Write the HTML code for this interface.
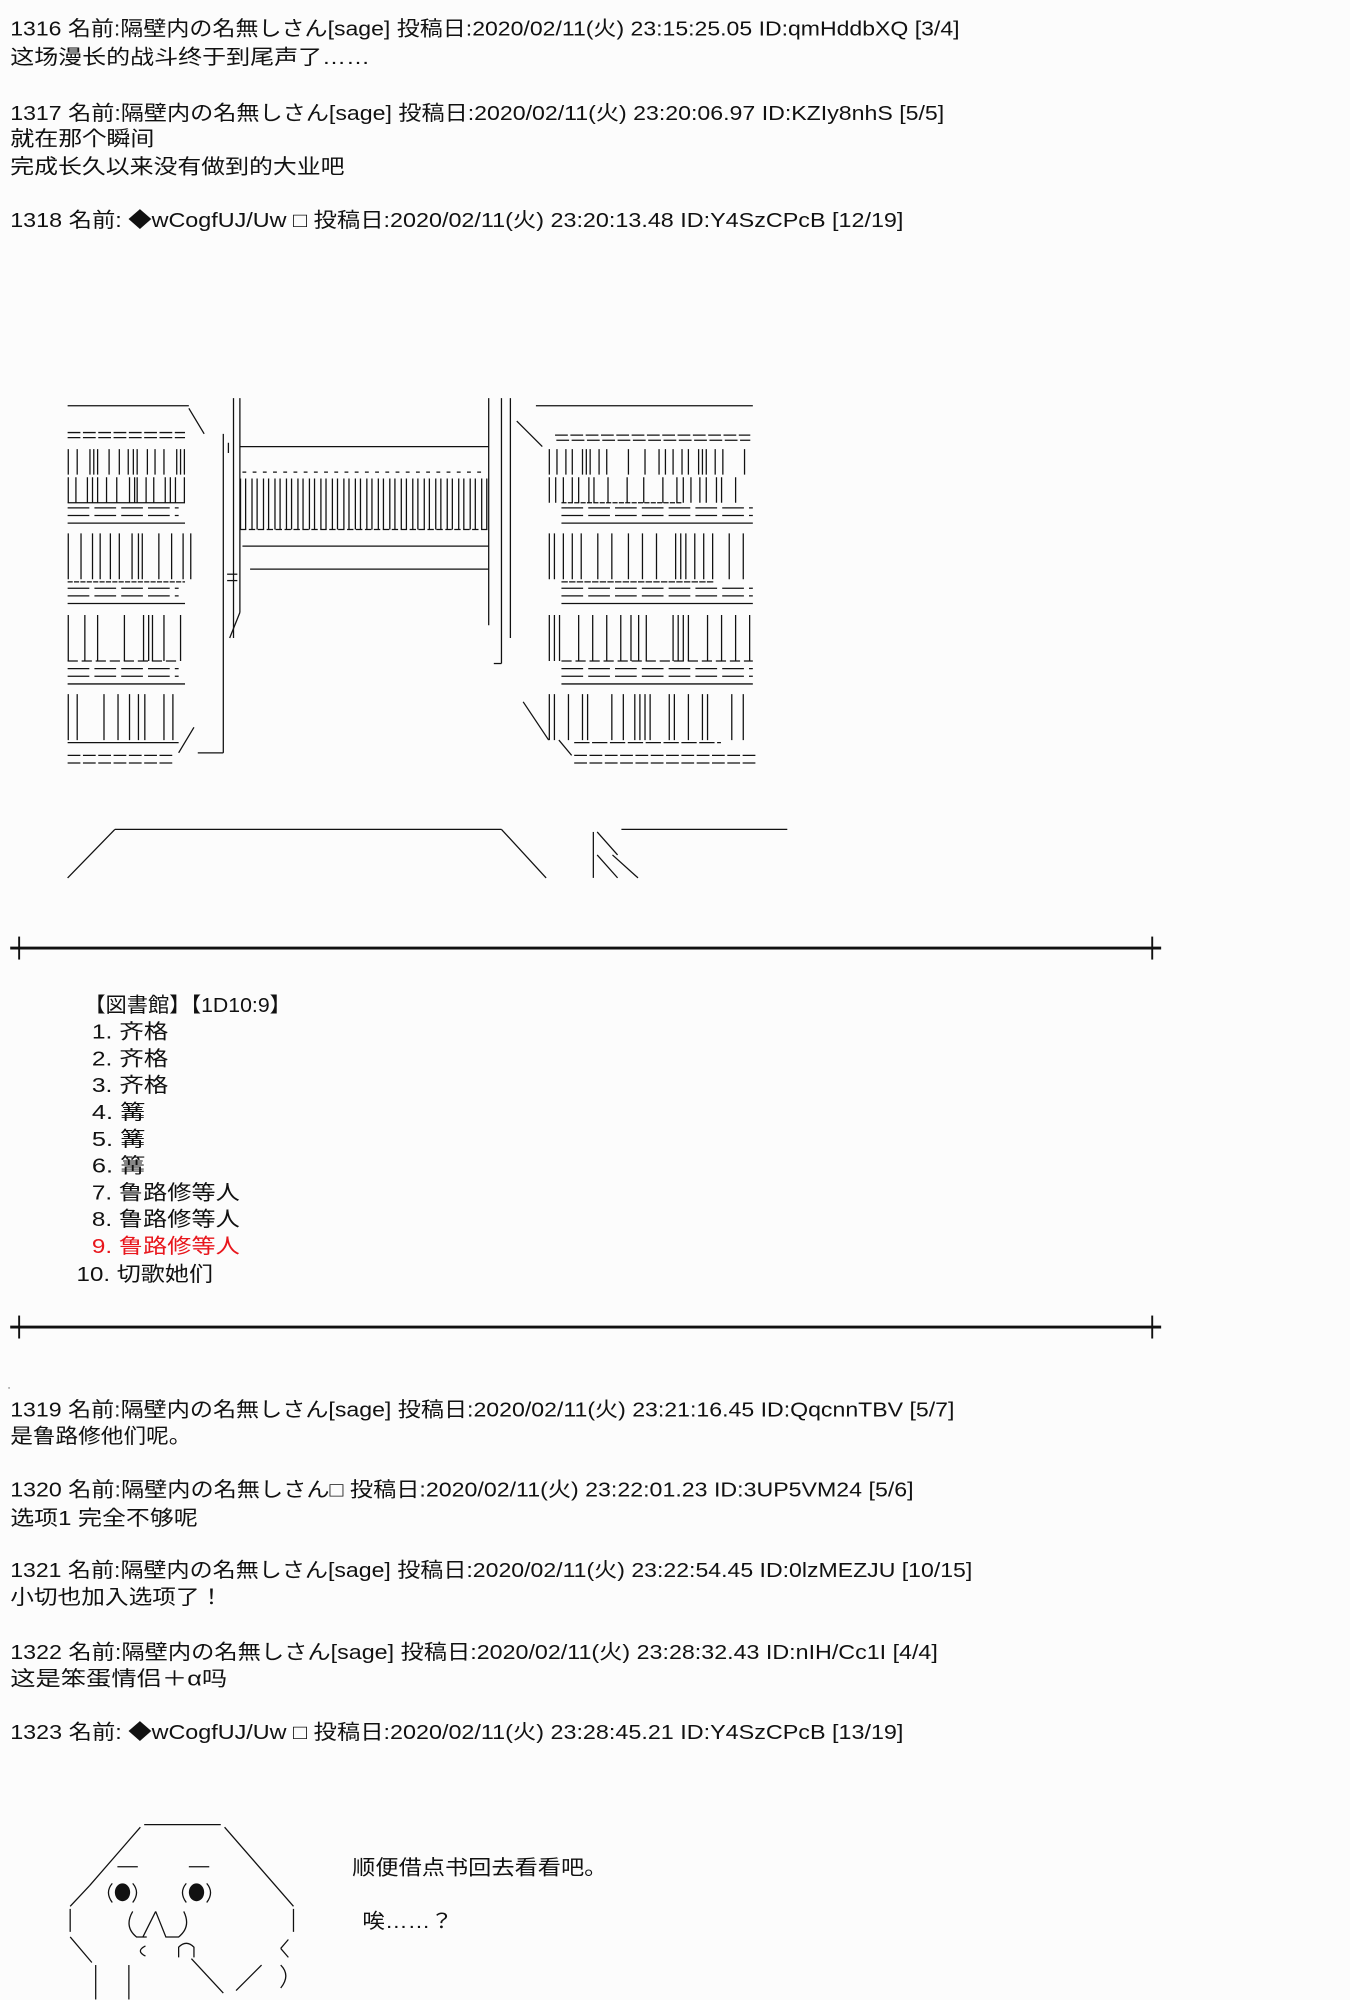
<!DOCTYPE html>
<html><head><meta charset="utf-8"><style>
html,body{margin:0;padding:0;background:#fcfcfc;width:1350px;height:2000px;overflow:hidden}
svg{display:block}
text{font-family:"Liberation Sans","Noto Sans CJK JP",sans-serif;font-size:16px;fill:#111}
</style></head><body>
<svg width="1350" height="2000" viewBox="0 0 1058 1567.4" xmlns="http://www.w3.org/2000/svg">
<g>
<text x="8" y="28" textLength="744" lengthAdjust="spacingAndGlyphs">1316 名前:隔壁内の名無しさん[sage] 投稿日:2020/02/11(火) 23:15:25.05 ID:qmHddbXQ [3/4]</text>
<text x="8" y="50" textLength="282" lengthAdjust="spacingAndGlyphs">这场漫长的战斗终于到尾声了……</text>
<text x="8" y="94" textLength="732" lengthAdjust="spacingAndGlyphs">1317 名前:隔壁内の名無しさん[sage] 投稿日:2020/02/11(火) 23:20:06.97 ID:KZIy8nhS [5/5]</text>
<text x="8" y="114" textLength="113" lengthAdjust="spacingAndGlyphs">就在那个瞬间</text>
<text x="8" y="136" textLength="262" lengthAdjust="spacingAndGlyphs">完成长久以来没有做到的大业吧</text>
<text x="8" y="178" textLength="700" lengthAdjust="spacingAndGlyphs">1318 名前: ◆wCogfUJ/Uw □ 投稿日:2020/02/11(火) 23:20:13.48 ID:Y4SzCPcB [12/19]</text>
</g>
<g stroke="#111" stroke-width="1" fill="none">
<line x1="53" y1="318" x2="148" y2="318"/>
<line x1="148" y1="320" x2="160" y2="340" />
<line x1="53" y1="339" x2="145" y2="339" stroke-dasharray="10 2"/>
<line x1="53" y1="343" x2="145" y2="343" stroke-dasharray="10 2"/>
<line x1="53" y1="362" x2="150" y2="362" stroke-width="20" stroke-dasharray="1 6 1 9 1 2 1 2 1 8 1 7 1 6 1 3 1 2 1 7 1 5"/>
<line x1="53" y1="384" x2="150" y2="384" stroke-width="20" stroke-dasharray="1 5 1 8 1 3 1 3 1 6 1 7 1 9 1 3 1 1 1 6"/>
<line x1="53" y1="394" x2="145" y2="394"/>
<line x1="53" y1="398" x2="140" y2="398" stroke-dasharray="17 4"/>
<line x1="53" y1="404" x2="140" y2="404" stroke-dasharray="17 4"/>
<line x1="53" y1="410" x2="145" y2="410"/>
<line x1="53" y1="436" x2="150" y2="436" stroke-width="36" stroke-dasharray="1 9 1 8 1 5 1 7 1 6 1 9 1 4 1 2 1 12"/>
<line x1="53" y1="456" x2="145" y2="456" stroke-dasharray="4 1"/>
<line x1="53" y1="461" x2="140" y2="461" stroke-dasharray="17 4"/>
<line x1="53" y1="467" x2="140" y2="467" stroke-dasharray="17 4"/>
<line x1="53" y1="473" x2="145" y2="473"/>
<line x1="53" y1="500" x2="150" y2="500" stroke-width="36" stroke-dasharray="1 12 1 9 1 20 1 14 1 3 1 2 1 8"/>
<line x1="53" y1="518" x2="140" y2="518" stroke-dasharray="8 3"/>
<line x1="53" y1="524" x2="140" y2="524" stroke-dasharray="17 4"/>
<line x1="53" y1="530" x2="140" y2="530" stroke-dasharray="17 4"/>
<line x1="53" y1="536" x2="145" y2="536"/>
<line x1="53" y1="562" x2="150" y2="562" stroke-width="36" stroke-dasharray="1 6 1 20 1 10 1 8 1 6 1 4 1 14"/>
<line x1="53" y1="582" x2="140" y2="582"/>
<line x1="53" y1="592" x2="137" y2="592" stroke-dasharray="10 2"/>
<line x1="53" y1="598" x2="137" y2="598" stroke-dasharray="10 2"/>
<line x1="140" y1="590" x2="152" y2="570"/>
<line x1="175" y1="340" x2="175" y2="590"/>
<line x1="183" y1="312" x2="183" y2="500"/>
<line x1="188" y1="312" x2="188" y2="480"/>
<line x1="179" y1="347" x2="179" y2="355"/>
<line x1="178" y1="450" x2="186" y2="450"/>
<line x1="178" y1="455" x2="186" y2="455"/>
<line x1="188" y1="480" x2="180" y2="500"/>
<line x1="175" y1="590" x2="155" y2="590"/>
<line x1="188" y1="350" x2="383" y2="350"/>
<line x1="190" y1="370" x2="380" y2="370" stroke-dasharray="3 5"/>
<line x1="188" y1="395" x2="383" y2="395" stroke-width="40" stroke-dasharray="1 3 1 4 1 3 1 4 1 3 1 4 1 3 1 4"/>
<line x1="188" y1="415" x2="383" y2="415" stroke-dasharray="5 2"/>
<line x1="190" y1="428" x2="383" y2="428"/>
<line x1="196" y1="446" x2="383" y2="446"/>
<line x1="383" y1="312" x2="383" y2="490"/>
<line x1="393" y1="312" x2="393" y2="520"/>
<line x1="400" y1="312" x2="400" y2="500"/>
<line x1="405" y1="330" x2="425" y2="350"/>
<line x1="393" y1="520" x2="387" y2="520"/>
<line x1="410" y1="550" x2="430" y2="580"/>
<line x1="420" y1="318" x2="590" y2="318"/>
<line x1="435" y1="341" x2="588" y2="341" stroke-dasharray="10 2"/>
<line x1="436" y1="345" x2="588" y2="345" stroke-dasharray="10 2"/>
<line x1="430" y1="362" x2="590" y2="362" stroke-width="20" stroke-dasharray="1 5 1 6 1 4 1 7 1 2 1 2 1 6 1 5 1 16 1 12 1 10 1 4"/>
<line x1="430" y1="384" x2="590" y2="384" stroke-width="20" stroke-dasharray="1 4 1 5 1 6 1 4 1 7 1 3 1 10 1 14 1 12 1 14 1 10"/>
<line x1="440" y1="394" x2="535" y2="394" stroke-dasharray="4 1"/>
<line x1="440" y1="398" x2="590" y2="398" stroke-dasharray="17 4"/>
<line x1="440" y1="404" x2="590" y2="404" stroke-dasharray="17 4"/>
<line x1="440" y1="410" x2="590" y2="410"/>
<line x1="430" y1="436" x2="590" y2="436" stroke-width="36" stroke-dasharray="1 3 1 6 1 6 1 6 1 12 1 10 1 12 1 10 1 10 1 14 1 3"/>
<line x1="440" y1="456" x2="560" y2="456" stroke-dasharray="5 1"/>
<line x1="440" y1="461" x2="590" y2="461" stroke-dasharray="17 4"/>
<line x1="440" y1="467" x2="590" y2="467" stroke-dasharray="17 4"/>
<line x1="440" y1="473" x2="590" y2="473"/>
<line x1="430" y1="500" x2="590" y2="500" stroke-width="36" stroke-dasharray="1 3 1 3 1 14 1 10 1 10 1 10 1 7 1 5 1 5 1 20 1 3"/>
<line x1="440" y1="518" x2="590" y2="518" stroke-dasharray="8 3"/>
<line x1="440" y1="524" x2="590" y2="524" stroke-dasharray="17 4"/>
<line x1="440" y1="530" x2="590" y2="530" stroke-dasharray="17 4"/>
<line x1="440" y1="536" x2="590" y2="536"/>
<line x1="430" y1="562" x2="590" y2="562" stroke-width="36" stroke-dasharray="1 3 1 10 1 10 1 3 1 18 1 8 1 8 1 3 1 3 1 3 1 14"/>
<line x1="450" y1="582" x2="565" y2="582" stroke-dasharray="12 2"/>
<line x1="450" y1="592" x2="592" y2="592" stroke-dasharray="10 2"/>
<line x1="450" y1="598" x2="592" y2="598" stroke-dasharray="10 2"/>
<line x1="438" y1="580" x2="448" y2="592"/>
<line x1="90" y1="650" x2="393" y2="650"/>
<line x1="90" y1="650" x2="53" y2="688"/>
<line x1="393" y1="650" x2="428" y2="688"/>
<line x1="487" y1="650" x2="617" y2="650"/>
<line x1="465" y1="652" x2="465" y2="688"/>
<line x1="468" y1="652" x2="484" y2="670"/>
<line x1="468" y1="670" x2="484" y2="688"/>
<line x1="480" y1="670" x2="500" y2="688"/>
</g>
<g stroke="#111">
<line x1="8" y1="743" x2="910" y2="743" stroke-width="2.2"/>
<line x1="15" y1="734" x2="15" y2="752" stroke-width="1.5"/>
<line x1="903" y1="734" x2="903" y2="752" stroke-width="1.5"/>
<line x1="8" y1="1040" x2="910" y2="1040" stroke-width="2.2"/>
<line x1="15" y1="1031" x2="15" y2="1049" stroke-width="1.5"/>
<line x1="903" y1="1031" x2="903" y2="1049" stroke-width="1.5"/>
</g>
<g>
<text x="66" y="793" textLength="162" lengthAdjust="spacingAndGlyphs">【図書館】【1D10:9】</text>
<text x="72" y="814" textLength="60" lengthAdjust="spacingAndGlyphs">1. 齐格</text>
<text x="72" y="835" textLength="60" lengthAdjust="spacingAndGlyphs">2. 齐格</text>
<text x="72" y="856" textLength="60" lengthAdjust="spacingAndGlyphs">3. 齐格</text>
<text x="72" y="877" textLength="42" lengthAdjust="spacingAndGlyphs">4. 篝</text>
<text x="72" y="898" textLength="42" lengthAdjust="spacingAndGlyphs">5. 篝</text>
<text x="72" y="919" textLength="42" lengthAdjust="spacingAndGlyphs">6. 篝</text>
<text x="72" y="940" textLength="116" lengthAdjust="spacingAndGlyphs">7. 鲁路修等人</text>
<text x="72" y="961" textLength="116" lengthAdjust="spacingAndGlyphs">8. 鲁路修等人</text>
<text x="72" y="982" textLength="116" lengthAdjust="spacingAndGlyphs" style="fill:#e8161c">9. 鲁路修等人</text>
<text x="60" y="1004" textLength="107" lengthAdjust="spacingAndGlyphs">10. 切歌她们</text>
<text x="6" y="1088" style="font-size:8px">.</text>
<text x="8" y="1110" textLength="740" lengthAdjust="spacingAndGlyphs">1319 名前:隔壁内の名無しさん[sage] 投稿日:2020/02/11(火) 23:21:16.45 ID:QqcnnTBV [5/7]</text>
<text x="8" y="1131" textLength="142" lengthAdjust="spacingAndGlyphs">是鲁路修他们呢。</text>
<text x="8" y="1173" textLength="708" lengthAdjust="spacingAndGlyphs">1320 名前:隔壁内の名無しさん□ 投稿日:2020/02/11(火) 23:22:01.23 ID:3UP5VM24 [5/6]</text>
<text x="8" y="1195" textLength="147" lengthAdjust="spacingAndGlyphs">选项1 完全不够呢</text>
<text x="8" y="1236" textLength="754" lengthAdjust="spacingAndGlyphs">1321 名前:隔壁内の名無しさん[sage] 投稿日:2020/02/11(火) 23:22:54.45 ID:0lzMEZJU [10/15]</text>
<text x="8" y="1257" textLength="167" lengthAdjust="spacingAndGlyphs">小切也加入选项了！</text>
<text x="8" y="1300" textLength="727" lengthAdjust="spacingAndGlyphs">1322 名前:隔壁内の名無しさん[sage] 投稿日:2020/02/11(火) 23:28:32.43 ID:nIH/Cc1I [4/4]</text>
<text x="8" y="1321" textLength="170" lengthAdjust="spacingAndGlyphs">这是笨蛋情侣＋α吗</text>
<text x="8" y="1363" textLength="700" lengthAdjust="spacingAndGlyphs">1323 名前: ◆wCogfUJ/Uw □ 投稿日:2020/02/11(火) 23:28:45.21 ID:Y4SzCPcB [13/19]</text>
<text x="276" y="1469" textLength="200" lengthAdjust="spacingAndGlyphs">顺便借点书回去看看吧。</text>
<text x="284" y="1511" textLength="71" lengthAdjust="spacingAndGlyphs">唉……？</text>
</g>
<g stroke="#111" stroke-width="1" fill="none">
<line x1="113" y1="1430" x2="173" y2="1430"/>
<line x1="110" y1="1432" x2="70" y2="1478"/>
<line x1="70" y1="1478" x2="55" y2="1494"/>
<line x1="176" y1="1432" x2="230" y2="1494"/>
<line x1="55" y1="1496" x2="55" y2="1514"/>
<line x1="230" y1="1496" x2="230" y2="1514"/>
<line x1="55" y1="1518" x2="72" y2="1538"/>
<line x1="226" y1="1520" x2="220" y2="1527"/>
<line x1="220" y1="1527" x2="226" y2="1534"/>
<line x1="92" y1="1463" x2="108" y2="1463"/>
<line x1="148" y1="1463" x2="164" y2="1463"/>
<path d="M88 1476 Q82 1483 88 1491 M104 1476 Q110 1483 104 1491 M146 1476 Q140 1483 146 1491 M162 1476 Q168 1483 162 1491"/>
<path d="M104 1498 Q97 1510 107 1518 L115 1518 M122 1498 L112 1518 M122 1498 L130 1518 L140 1518 Q150 1510 144 1498"/>
<path d="M114 1525 Q106 1529 114 1533 M140 1534 L140 1526 Q146 1520 152 1526 L152 1534"/>
<line x1="75" y1="1540" x2="75" y2="1567"/>
<line x1="101" y1="1540" x2="101" y2="1567"/>
<line x1="150" y1="1535" x2="175" y2="1562"/>
<line x1="205" y1="1540" x2="185" y2="1560"/>
<path d="M220 1540 Q228 1548 220 1558"/>
</g>
<ellipse cx="96" cy="1483" rx="6" ry="7" fill="#111"/>
<ellipse cx="154" cy="1483" rx="6" ry="7" fill="#111"/>
</svg>
</body></html>
